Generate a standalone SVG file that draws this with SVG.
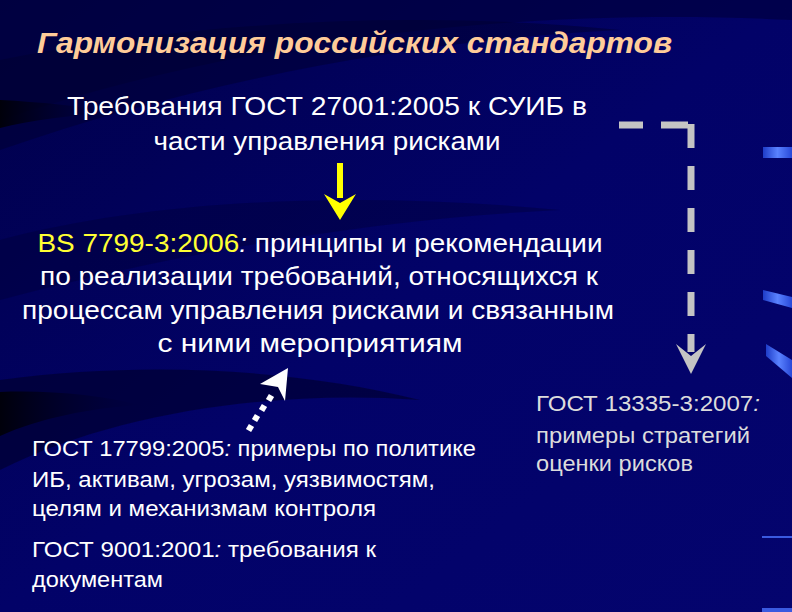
<svg xmlns="http://www.w3.org/2000/svg" width="792" height="612" viewBox="0 0 792 612">
<defs>
<linearGradient id="bg" x1="0" y1="0" x2="1" y2="1">
<stop offset="0" stop-color="#00004a"/>
<stop offset="0.5" stop-color="#020268"/>
<stop offset="1" stop-color="#04046e"/>
</linearGradient>
<linearGradient id="bar" x1="0" y1="0" x2="1" y2="0">
<stop offset="0" stop-color="#1e3cc8"/>
<stop offset="0.5" stop-color="#5a82ff"/>
<stop offset="1" stop-color="#2848d8"/>
</linearGradient>
<linearGradient id="dk" x1="0" y1="0" x2="1" y2="0">
<stop offset="0" stop-color="#000008" stop-opacity="0.95"/>
<stop offset="1" stop-color="#000030" stop-opacity="0"/>
</linearGradient>
<style>
.t{font-family:"Liberation Sans",Arial,sans-serif;fill:#ffffff}
.c{text-anchor:middle;font-size:26px}
.s{font-size:21.5px}
.r{font-size:21.5px;fill:#dcdcdc}
.dash{fill:none;stroke:#c4c4c4;stroke-width:7}
</style>
</defs>
<rect width="792" height="612" fill="url(#bg)"/>
<g id="background-swooshes">
<path d="M0 0 H792 V20 C600 10 300 20 0 120 Z" fill="#00003a" opacity="0.6"/>
<path d="M0 60 C200 20 420 10 620 30 C420 40 200 80 0 150 Z" fill="#000030" opacity="0.5"/>
<path d="M0 100 C40 102 80 106 110 112 C70 116 30 120 0 128 Z" fill="url(#dk)"/>
<path d="M0 240 C150 200 350 190 560 210 C350 220 150 260 0 300 Z" fill="#000030" opacity="0.35"/>
<path d="M0 380 C150 360 300 370 420 400 C280 390 120 410 0 470 Z" fill="#000025" opacity="0.55"/>
<path d="M0 392 C50 390 100 395 140 405 C90 408 40 418 0 436 Z" fill="url(#dk)"/>
<rect x="763" y="147" width="29" height="11" fill="url(#bar)"/>
<polygon points="763,290 792,297 792,308 763,300" fill="url(#bar)"/>
<polygon points="766,344 792,360 792,378 766,356" fill="url(#bar)"/>
<rect x="762" y="536" width="30" height="2" fill="#3a5ae0"/>
<rect x="762" y="608" width="30" height="4" fill="#3a5ae0"/>
</g>
<g id="title">
<text class="t" x="37" y="53" font-size="30" font-weight="bold" font-style="italic" style="fill:#ffcc99" textLength="635" lengthAdjust="spacingAndGlyphs">Гармонизация российских стандартов</text>
</g>
<g id="node-gost27001">
<text class="t c" x="327" y="115" textLength="520" lengthAdjust="spacingAndGlyphs">Требования ГОСТ 27001:2005 к СУИБ в</text>
<text class="t c" x="327" y="150" textLength="347" lengthAdjust="spacingAndGlyphs">части управления рисками</text>
</g>
<g id="node-bs7799">
<text class="t c" x="320" y="252" textLength="565" lengthAdjust="spacingAndGlyphs"><tspan style="fill:#ffff33">BS 7799-3:2006</tspan><tspan font-style="italic">:</tspan> принципы и рекомендации</text>
<text class="t c" x="319" y="285" textLength="558" lengthAdjust="spacingAndGlyphs">по реализации требований, относящихся к</text>
<text class="t c" x="318" y="319" textLength="592" lengthAdjust="spacingAndGlyphs">процессам управления рисками и связанным</text>
<text class="t c" x="310" y="352" textLength="305" lengthAdjust="spacingAndGlyphs">с ними мероприятиям</text>
</g>
<g id="node-gost17799">
<text class="t s" x="32" y="456" textLength="444" lengthAdjust="spacingAndGlyphs">ГОСТ 17799:2005<tspan font-style="italic">:</tspan> примеры по политике</text>
<text class="t s" x="32" y="487" textLength="403" lengthAdjust="spacingAndGlyphs">ИБ, активам, угрозам, уязвимостям,</text>
<text class="t s" x="32" y="516" textLength="344" lengthAdjust="spacingAndGlyphs">целям и механизмам контроля</text>
</g>
<g id="node-gost9001">
<text class="t s" x="32" y="557" textLength="344" lengthAdjust="spacingAndGlyphs">ГОСТ 9001:2001<tspan font-style="italic">:</tspan> требования к</text>
<text class="t s" x="32" y="587" textLength="131" lengthAdjust="spacingAndGlyphs">документам</text>
</g>
<g id="node-gost13335">
<text class="t r" x="536" y="411" textLength="224" lengthAdjust="spacingAndGlyphs">ГОСТ 13335-3:2007<tspan font-style="italic">:</tspan></text>
<text class="t r" x="536" y="443" textLength="214" lengthAdjust="spacingAndGlyphs">примеры стратегий</text>
<text class="t r" x="536" y="471" textLength="157" lengthAdjust="spacingAndGlyphs">оценки рисков</text>
</g>
<g id="connectors">
<g id="arrow-yellow">
<rect x="337" y="163" width="6" height="35" fill="#ffff00"/>
<polygon points="324,194 340,203 356,194 340,220" fill="#ffff00"/>
</g>
<g id="arrow-dotted" fill="#ffffff">
<rect x="247" y="425" width="6" height="6" transform="rotate(30 250 428)"/>
<rect x="253" y="415" width="6" height="6" transform="rotate(30 256 418)"/>
<rect x="260" y="405" width="6" height="6" transform="rotate(30 263 408)"/>
<rect x="267" y="395" width="6" height="6" transform="rotate(30 270 398)"/>
<polygon points="288,368 285,401 278,387 260,384"/>
</g>
<g id="arrow-dashed">
<path class="dash" d="M619 125 H643 M661 125 H688"/>
<path class="dash" d="M691 124 V148 M691 166 V190 M691 208 V232 M691 250 V274 M691 292 V316 M691 334 V352"/>
<polygon points="676,344 691,356 706,344 691,374" fill="#c4c4c4"/>
</g>
</g>
</svg>
